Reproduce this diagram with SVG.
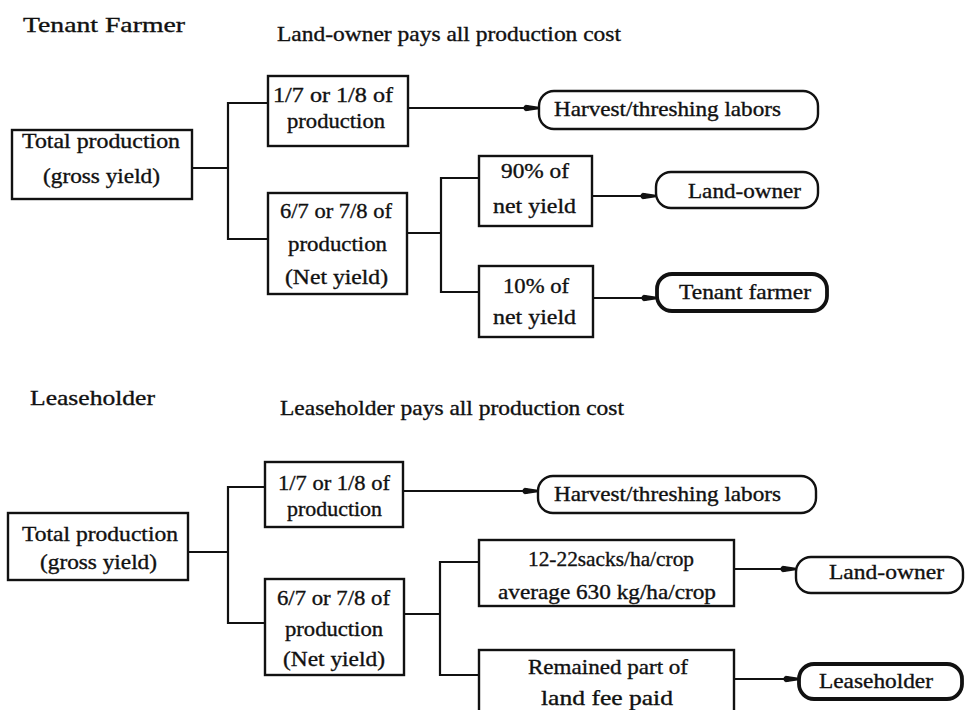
<svg xmlns="http://www.w3.org/2000/svg" width="966" height="710" viewBox="0 0 966 710">
<style>
  text { font-family: "Liberation Serif", "Times New Roman", serif; font-size: 21px; fill: #111; stroke: #111; stroke-width: 0.35; }
  .title { font-size: 22px; }
  .box { fill: #fff; stroke: #111; stroke-width: 2.4; }
  .pill { fill: #fff; stroke: #111; stroke-width: 2.4; }
  .pill-bold { fill: #fff; stroke: #111; stroke-width: 3.8; }
  .conn { fill: none; stroke: #111; stroke-width: 2.2; }
  .arrow { fill: none; stroke: #111; stroke-width: 2; marker-end: url(#head); }
</style>
<defs>
  <marker id="head" viewBox="0 0 16 10" refX="16" refY="5" markerWidth="16" markerHeight="10" markerUnits="userSpaceOnUse" orient="auto">
    <circle cx="3.5" cy="5" r="3" fill="#111"/>
    <path d="M2.5,1.8 L16,3.8 L16,6.2 L2.5,8.2 Z" fill="#111"/>
  </marker>
</defs>
<rect width="966" height="710" fill="#fff"/>

<g id="titles">
  <text class="title" x="23" y="32" textLength="162" lengthAdjust="spacingAndGlyphs">Tenant Farmer</text>
  <text x="277" y="41" textLength="344" lengthAdjust="spacingAndGlyphs">Land-owner pays all production cost</text>
  <text class="title" x="30" y="405" textLength="125" lengthAdjust="spacingAndGlyphs">Leaseholder</text>
  <text x="280" y="415" textLength="344" lengthAdjust="spacingAndGlyphs">Leaseholder pays all production cost</text>
</g>

<g id="connectors">
  <!-- top section -->
  <path class="conn" d="M192,168 H228 M268,103 H228 V239 H268"/>
  <path class="conn" d="M407,233 H441 M479,178 H441 V292 H479"/>
  <path class="arrow" d="M408,108 H539"/>
  <path class="arrow" d="M592,196 H656"/>
  <path class="arrow" d="M593,298 H657"/>
  <!-- bottom section -->
  <path class="conn" d="M188,552 H228 M265,487 H228 V623 H265"/>
  <path class="conn" d="M404,614 H440 M479,562 H440 V675 H479"/>
  <path class="arrow" d="M403,491 H538"/>
  <path class="arrow" d="M734,569 H796"/>
  <path class="arrow" d="M734,679 H799"/>
</g>

<!-- Tenant Farmer section -->
<g id="tf-total">
  <rect class="box" x="12" y="130" width="180" height="69"/>
  <text x="22" y="148" textLength="158" lengthAdjust="spacingAndGlyphs">Total production</text>
  <text x="43" y="183" textLength="117" lengthAdjust="spacingAndGlyphs">(gross yield)</text>
</g>
<g id="tf-share17">
  <rect class="box" x="268" y="76" width="140" height="70"/>
  <text x="273" y="102" textLength="120" lengthAdjust="spacingAndGlyphs">1/7 or 1/8 of</text>
  <text x="287" y="128" textLength="98" lengthAdjust="spacingAndGlyphs">production</text>
</g>
<g id="tf-share67">
  <rect class="box" x="268" y="193" width="139" height="101"/>
  <text x="280" y="218" textLength="112" lengthAdjust="spacingAndGlyphs">6/7 or 7/8 of</text>
  <text x="288" y="251" textLength="99" lengthAdjust="spacingAndGlyphs">production</text>
  <text x="285" y="284" textLength="103" lengthAdjust="spacingAndGlyphs">(Net yield)</text>
</g>
<g id="tf-90">
  <rect class="box" x="479" y="156" width="113" height="70"/>
  <text x="501" y="178" textLength="68" lengthAdjust="spacingAndGlyphs">90% of</text>
  <text x="493" y="213" textLength="83" lengthAdjust="spacingAndGlyphs">net yield</text>
</g>
<g id="tf-10">
  <rect class="box" x="479" y="266" width="114" height="71"/>
  <text x="503" y="293" textLength="66" lengthAdjust="spacingAndGlyphs">10% of</text>
  <text x="493" y="324" textLength="83" lengthAdjust="spacingAndGlyphs">net yield</text>
</g>
<g id="tf-harvest">
  <rect class="pill" x="539" y="91" width="279" height="38" rx="15" ry="15"/>
  <text x="554" y="116" textLength="227" lengthAdjust="spacingAndGlyphs">Harvest/threshing labors</text>
</g>
<g id="tf-landowner">
  <rect class="pill" x="656" y="172" width="162" height="36" rx="15" ry="15"/>
  <text x="688" y="198" textLength="113" lengthAdjust="spacingAndGlyphs">Land-owner</text>
</g>
<g id="tf-tenant">
  <rect class="pill-bold" x="657" y="274" width="170" height="37" rx="15" ry="15"/>
  <text x="679" y="299" textLength="132" lengthAdjust="spacingAndGlyphs">Tenant farmer</text>
</g>

<!-- Leaseholder section -->
<g id="lh-total">
  <rect class="box" x="8" y="513" width="180" height="67"/>
  <text x="22" y="541" textLength="156" lengthAdjust="spacingAndGlyphs">Total production</text>
  <text x="40" y="569" textLength="117" lengthAdjust="spacingAndGlyphs">(gross yield)</text>
</g>
<g id="lh-share17">
  <rect class="box" x="265" y="462" width="138" height="65"/>
  <text x="278" y="490" textLength="112" lengthAdjust="spacingAndGlyphs">1/7 or 1/8 of</text>
  <text x="287" y="516" textLength="95" lengthAdjust="spacingAndGlyphs">production</text>
</g>
<g id="lh-share67">
  <rect class="box" x="265" y="579" width="139" height="96"/>
  <text x="277" y="605" textLength="113" lengthAdjust="spacingAndGlyphs">6/7 or 7/8 of</text>
  <text x="285" y="636" textLength="98" lengthAdjust="spacingAndGlyphs">production</text>
  <text x="283" y="666" textLength="102" lengthAdjust="spacingAndGlyphs">(Net yield)</text>
</g>
<g id="lh-sacks">
  <rect class="box" x="479" y="540" width="255" height="66"/>
  <text x="528" y="566" textLength="166" lengthAdjust="spacingAndGlyphs">12-22sacks/ha/crop</text>
  <text x="498" y="599" textLength="218" lengthAdjust="spacingAndGlyphs">average 630 kg/ha/crop</text>
</g>
<g id="lh-remained">
  <rect class="box" x="479" y="650" width="255" height="70"/>
  <text x="528" y="674" textLength="160" lengthAdjust="spacingAndGlyphs">Remained part of</text>
  <text x="541" y="705" textLength="132" lengthAdjust="spacingAndGlyphs">land fee paid</text>
</g>
<g id="lh-harvest">
  <rect class="pill" x="538" y="476" width="278" height="37" rx="15" ry="15"/>
  <text x="554" y="501" textLength="227" lengthAdjust="spacingAndGlyphs">Harvest/threshing labors</text>
</g>
<g id="lh-landowner">
  <rect class="pill" x="796" y="557" width="167" height="36" rx="15" ry="15"/>
  <text x="829" y="579" textLength="115" lengthAdjust="spacingAndGlyphs">Land-owner</text>
</g>
<g id="lh-leaseholder">
  <rect class="pill-bold" x="799" y="664" width="163" height="35" rx="15" ry="15"/>
  <text x="819" y="688" textLength="114" lengthAdjust="spacingAndGlyphs">Leaseholder</text>
</g>
</svg>
